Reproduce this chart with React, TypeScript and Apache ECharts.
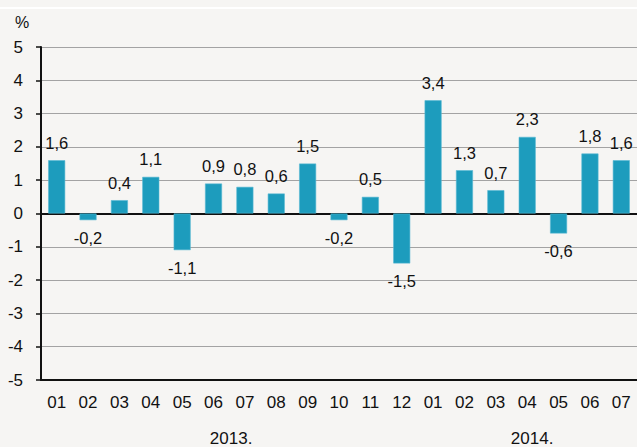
import React, { useEffect, useRef } from "react";
import * as echarts from "echarts";

const months = ["01","02","03","04","05","06","07","08","09","10","11","12","01","02","03","04","05","06","07"];
const values = [1.6,-0.2,0.4,1.1,-1.1,0.9,0.8,0.6,1.5,-0.2,0.5,-1.5,3.4,1.3,0.7,2.3,-0.6,1.8,1.6];
const years = ["2013.","2014."];
const yearSpans = [12, 7];

const W = 637, H = 447;
const GRID_LEFT = 41, GRID_TOP = 47, GRID_W = 602, GRID_H = 333;
const FONT = "'Liberation Sans', Arial, sans-serif";

export default function App() {
  const ref = useRef<HTMLDivElement>(null);
  useEffect(() => {
    if (!ref.current) return;
    const chart = echarts.init(ref.current, null, { renderer: "svg" });
    const total = yearSpans.reduce((a, b) => a + b, 0);
    let acc = 0;
    const yearTexts = years.map((y, i) => {
      const center = acc + yearSpans[i] / 2;
      acc += yearSpans[i];
      return {
        type: "text",
        x: GRID_LEFT + (GRID_W * center) / total,
        y: 438,
        style: { text: y, font: `17px ${FONT}`, fill: "#111", align: "center", verticalAlign: "middle" },
      };
    });
    chart.setOption({
      animation: false,
      backgroundColor: "#f6f5f3",
      textStyle: { fontFamily: FONT },
      grid: { left: GRID_LEFT, top: GRID_TOP, width: GRID_W, height: GRID_H, containLabel: false },
      graphic: [
        { type: "rect", shape: { x: 0, y: 7, width: W, height: 2 }, style: { fill: "#ffffff" } },
        { type: "text", x: 22, y: 22, style: { text: "%", font: `16px ${FONT}`, fill: "#111", align: "center", verticalAlign: "middle" } },
        ...yearTexts,
      ],
      xAxis: [
        {
          type: "category",
          data: months,
          position: "bottom",
          axisLine: { onZero: false, lineStyle: { color: "#111", width: 2 } },
          axisTick: { show: false },
          axisLabel: { color: "#111", fontSize: 17, margin: 14, interval: 0, fontFamily: FONT },
          splitLine: { show: false },
        },
        {
          type: "category",
          data: months,
          position: "top",
          axisLine: { show: true, lineStyle: { color: "#111", width: 2 } },
          axisTick: { show: false },
          axisLabel: { show: false },
        },
      ],
      yAxis: {
        type: "value",
        min: -5,
        max: 5,
        interval: 1,
        axisLine: { show: true, lineStyle: { color: "#111", width: 2 } },
        axisTick: { show: true, length: 5, lineStyle: { color: "#111", width: 1.5 } },
        axisLabel: { color: "#111", fontSize: 17, margin: 18, fontFamily: FONT },
        splitLine: { show: true, lineStyle: { color: "#a3a3a3", width: 1.2 } },
      },
      series: [
        {
          type: "bar",
          xAxisIndex: 0,
          barWidth: 17,
          itemStyle: { color: "#1d9cbd", borderColor: "#58b9d3", borderWidth: 0.6 },
          label: {
            show: true,
            distance: 9,
            color: "#111",
            fontSize: 16.5,
            fontFamily: FONT,
            formatter: (p: any) => Number(p.value).toFixed(1).replace(".", ","),
          },
          data: values.map((v) => ({ value: v, label: { position: v < 0 ? "bottom" : "top" } })),
        },
      ],
    });
    return () => chart.dispose();
  }, []);
  return <div ref={ref} style={{ position: "fixed", left: 0, top: 0, width: W, height: H }} />;
}
